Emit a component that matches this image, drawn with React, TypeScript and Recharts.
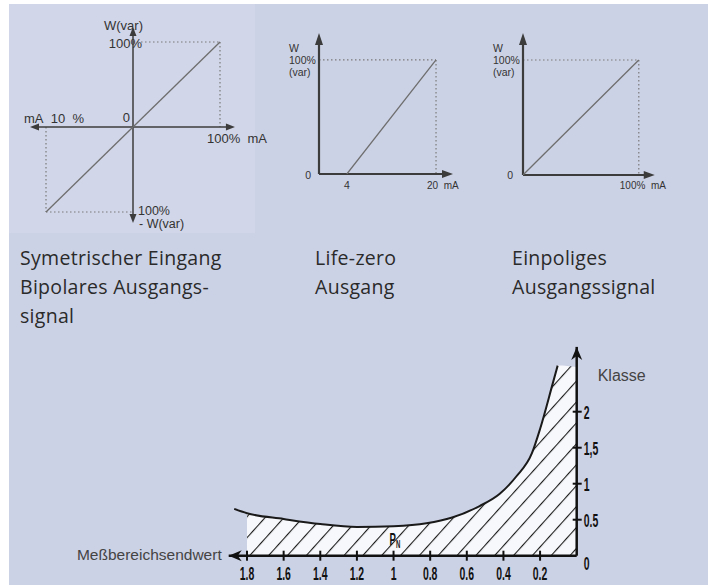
import React from 'react';
import { ComposedChart, Line, Area, XAxis, YAxis, ReferenceLine, ReferenceDot } from 'recharts';

// symmetric input, bipolar output (fraction of span)
const SYM_IN = [-1, 1];
const SYM_OUT = [-1, 1];

// life-zero: mA -> W (%)
const LIFE_MA = [4, 20];
const LIFE_W = [0, 100];

// unipolar: input % -> W %
const UNI_IN = [0, 100];
const UNI_W = [0, 100];

// Meßbereichsendwert vs Klasse
const RANGE_END = [0, 0.104, 0.131, 0.2, 0.245, 0.33, 0.42, 0.53, 0.68, 0.82, 1.0, 1.2, 1.4, 1.6, 1.8, 1.87];
const KLASSE = [null, 2.64, 2.39, 1.76, 1.42, 1.1, 0.86, 0.69, 0.53, 0.45, 0.41, 0.4, 0.44, 0.51, 0.59, 0.65];
const HATCH_TOP = 2.62;
const HATCH_LIMIT = 1.8;

const X_TICKS = [0.2, 0.4, 0.6, 0.8, 1, 1.2, 1.4, 1.6, 1.8];
const X_TICK_LABELS = ['0.2', '0.4', '0.6', '0.8', '1', '1.2', '1.4', '1.6', '1.8'];
const Y_TICKS = [0, 0.5, 1, 1.5, 2];
const Y_TICK_LABELS = ['0', '0.5', '1', '1,5', '2'];

const symData = SYM_IN.map((x, i) => ({ x, y: SYM_OUT[i] }));
const lifeData = LIFE_MA.map((x, i) => ({ x, y: LIFE_W[i] }));
const uniData = UNI_IN.map((x, i) => ({ x, y: UNI_W[i] }));
const klasseData = RANGE_END.map((x, i) => ({
    x,
    curve: KLASSE[i],
    hatch: x > HATCH_LIMIT ? null : (KLASSE[i] ?? HATCH_TOP),
}));

const AXIS = '#3c3c3c';
const THIN = '#6e6e6e';
const TXT = '#333';
const SANS = '"Liberation Sans", Arial, sans-serif';
const SP = '\u00a0';

type Dir = 'up' | 'down' | 'left' | 'right';

// arrow head, tip sits on the data point
const arrow = (dir: Dir, len: number, half: number, color: string, notch = 0) => (p: any) => {
    const { cx, cy } = p;
    const n = len * (1 - notch);
    let pts = '';
    if (dir === 'up') pts = `${cx},${cy} ${cx - half},${cy + len} ${cx},${cy + n} ${cx + half},${cy + len}`;
    if (dir === 'down') pts = `${cx},${cy} ${cx - half},${cy - len} ${cx},${cy - n} ${cx + half},${cy - len}`;
    if (dir === 'left') pts = `${cx},${cy} ${cx + len},${cy - half} ${cx + n},${cy} ${cx + len},${cy + half}`;
    if (dir === 'right') pts = `${cx},${cy} ${cx - len},${cy - half} ${cx - n},${cy} ${cx - len},${cy + half}`;
    return <polygon points={pts} fill={color} />;
};

const head = (key: string, x: number, y: number, shape: any) => (
    <ReferenceDot key={key} x={x} y={y} r={0} ifOverflow="visible" shape={shape} />
);

const lbl = (text: string, x: number, y: number, dx: number, dy: number, anchor: 'start' | 'middle' | 'end', size: number) => (
    <ReferenceDot
        key={text + x + y}
        x={x}
        y={y}
        r={0}
        ifOverflow="visible"
        shape={(p: any) => (
            <text x={p.cx + dx} y={p.cy + dy} textAnchor={anchor} fontFamily={SANS} fontSize={size} fill={TXT}>
                {text}
            </text>
        )}
    />
);

const seg = (x1: number, y1: number, x2: number, y2: number, dotted: boolean, width = 1.2) => (
    <ReferenceLine
        key={`${x1}-${y1}-${x2}-${y2}`}
        segment={[{ x: x1, y: y1 }, { x: x2, y: y2 }]}
        stroke={dotted ? '#7a7a7a' : AXIS}
        strokeWidth={width}
        strokeDasharray={dotted ? '1.5 2.5' : undefined}
        ifOverflow="visible"
    />
);

const XTick = (props: any) => {
    const { x, y, payload } = props;
    const i = X_TICKS.indexOf(payload.value);
    return (
        <g>
            <line x1={x} x2={x} y1={y - 5} y2={y + 5} stroke="#111" strokeWidth={2} />
            <text transform={`translate(${x},${y + 24}) scale(0.55,1)`} textAnchor="middle" fontFamily={SANS} fontWeight="bold" fontSize={19} fill="#111">
                {X_TICK_LABELS[i]}
            </text>
        </g>
    );
};

const YTick = (props: any) => {
    const { x, y, payload } = props;
    const i = Y_TICKS.indexOf(payload.value);
    const low = payload.value === 0 ? 14 : 7;
    return (
        <g>
            {payload.value !== 0 && <line x1={x - 4} x2={x + 5} y1={y} y2={y} stroke="#111" strokeWidth={2} />}
            <text transform={`translate(${x + 7},${y + low}) scale(0.55,1)`} textAnchor="start" fontFamily={SANS} fontWeight="bold" fontSize={19} fill="#111">
                {Y_TICK_LABELS[i]}
            </text>
        </g>
    );
};

const caption: React.CSSProperties = {
    position: 'absolute',
    fontFamily: '"Open Sans", Lato, sans-serif',
    fontSize: 19.5,
    letterSpacing: 0.3,
    lineHeight: '29px',
    color: '#2a2a2a',
    whiteSpace: 'nowrap',
};

export default function App() {
    return (
        <div style={{ position: 'absolute', left: 0, top: 0, width: 713, height: 585, background: '#fff', overflow: 'hidden' }}>
            <svg width={0} height={0} style={{ position: 'absolute' }}>
                <defs>
                    <pattern id="hatch" patternUnits="userSpaceOnUse" width={14} height={14} patternTransform="rotate(42)">
                        <rect width={14} height={14} fill="#f7f8fb" />
                        <line x1={0} y1={0} x2={0} y2={14} stroke="#1a1a1a" strokeWidth={2.2} />
                    </pattern>
                </defs>
            </svg>
            <div style={{ position: 'absolute', left: 9, top: 4, width: 699, height: 581, background: '#ccd2e5' }} />
            <div style={{ position: 'absolute', left: 9, top: 4, width: 246, height: 229, background: '#d1d6e8' }} />

            {/* symmetric input / bipolar output */}
            <div style={{ position: 'absolute', left: 0, top: 0 }}>
                <ComposedChart width={290} height={235} data={symData} margin={{ top: 25, right: 52.6, bottom: 6, left: 28.6 }}>
                    <XAxis dataKey="x" type="number" domain={[-1.2, 1.2]} hide allowDataOverflow />
                    <YAxis type="number" domain={[-1.2, 1.2]} hide allowDataOverflow />
                    {seg(0, 1, 1, 1, true)}
                    {seg(1, 1, 1, 0, true)}
                    {seg(-1, 0, -1, -1, true)}
                    {seg(-1, -1, 0, -1, true)}
                    {seg(-1.1, 0, 1.09, 0, false, 1.5)}
                    {seg(0, -1.05, 0, 1.1, false, 1.5)}
                    <Line dataKey="y" stroke={THIN} strokeWidth={1.3} dot={false} isAnimationActive={false} />
                    {head('l', -1.184, 0, arrow('left', 9, 3.5, AXIS))}
                    {head('r', 1.172, 0, arrow('right', 9, 3.5, AXIS))}
                    {head('u', 0, 1.176, arrow('up', 9, 3.5, AXIS))}
                    {head('d', 0, -1.13, arrow('down', 9, 3.5, AXIS))}
                    {lbl('W(var)', 0, 1.176, 10, 3, 'end', 13)}
                    {lbl('100%', 0, 1, 9, 6, 'end', 13)}
                    {lbl('0', 0, 0, -3, -5, 'end', 13)}
                    {lbl(`mA${SP}${SP}10${SP}${SP}%`, -1.184, 0, -6, -4, 'start', 13)}
                    {lbl(`100%${SP}${SP}mA`, 1, 0, -13, 16, 'start', 13)}
                    {lbl('100%', 0, -1, 5, 3, 'start', 12.5)}
                    {lbl('- W(var)', 0, -1.13, 6, 5, 'start', 12.5)}
                </ComposedChart>
            </div>

            {/* life-zero */}
            <div style={{ position: 'absolute', left: 260, top: 0 }}>
                <ComposedChart width={220} height={200} data={lifeData} margin={{ top: 32.6, right: 26.7, bottom: 26, left: 59 }}>
                    <XAxis dataKey="x" type="number" domain={[-1, 23.1]} hide allowDataOverflow />
                    <YAxis type="number" domain={[0, 124]} hide allowDataOverflow />
                    {seg(-1, 100, 20, 100, true)}
                    {seg(20, 100, 20, 0, true)}
                    {seg(-1, 0, 21.5, 0, false, 2.2)}
                    {seg(-1, 0, -1, 114, false, 2.2)}
                    <Line dataKey="y" stroke={THIN} strokeWidth={1.3} dot={false} isAnimationActive={false} />
                    {head('r', 23.05, 0, arrow('right', 11, 4, AXIS))}
                    {head('u', -1, 123.7, arrow('up', 12, 4, AXIS))}
                    {lbl('W', -1, 100, -30, -8, 'start', 10.5)}
                    {lbl('100%', -1, 100, -30, 4, 'start', 10.5)}
                    {lbl('(var)', -1, 100, -30, 16, 'start', 10.5)}
                    {lbl('0', -1, 0, -8, 5, 'end', 10.5)}
                    {lbl('4', 4, 0, 0, 15, 'middle', 10.5)}
                    {lbl(`20${SP}${SP}mA`, 20, 0, -9, 15, 'start', 10)}
                </ComposedChart>
            </div>

            {/* unipolar */}
            <div style={{ position: 'absolute', left: 480, top: 0 }}>
                <ComposedChart width={233} height={200} data={uniData} margin={{ top: 32.4, right: 58, bottom: 25, left: 43 }}>
                    <XAxis dataKey="x" type="number" domain={[0, 114]} hide allowDataOverflow />
                    <YAxis type="number" domain={[0, 124]} hide allowDataOverflow />
                    {seg(0, 100, 100, 100, true)}
                    {seg(100, 100, 100, 0, true)}
                    {seg(0, 0, 105, 0, false, 2.2)}
                    {seg(0, 0, 0, 114, false, 2.2)}
                    <Line dataKey="y" stroke={THIN} strokeWidth={1.3} dot={false} isAnimationActive={false} />
                    {head('r', 113.8, 0, arrow('right', 11, 4, AXIS))}
                    {head('u', 0, 123.5, arrow('up', 12, 4, AXIS))}
                    {lbl('W', 0, 100, -30, -8, 'start', 10.5)}
                    {lbl('100%', 0, 100, -30, 4, 'start', 10.5)}
                    {lbl('(var)', 0, 100, -30, 16, 'start', 10.5)}
                    {lbl('0', 0, 0, -10, 4, 'end', 10.5)}
                    {lbl(`100%${SP}${SP}mA`, 100, 0, -19, 14, 'start', 10)}
                </ComposedChart>
            </div>

            <div style={{ ...caption, left: 20, top: 243 }}>
                Symetrischer Eingang<br />Bipolares Ausgangs-<br />signal
            </div>
            <div style={{ ...caption, left: 315, top: 243 }}>
                Life-zero<br />Ausgang
            </div>
            <div style={{ ...caption, left: 512, top: 243 }}>
                Einpoliges<br />Ausgangssignal
            </div>

            {/* Klasse vs Meßbereichsendwert */}
            <div style={{ position: 'absolute', left: 0, top: 330 }}>
                <ComposedChart width={713} height={255} data={klasseData} margin={{ top: 16.9, right: 96.3, bottom: 9.3, left: 228.7 }}>
                    <XAxis
                        dataKey="x"
                        type="number"
                        domain={[0, 1.9]}
                        reversed
                        allowDataOverflow
                        ticks={X_TICKS}
                        tick={<XTick />}
                        tickLine={false}
                        tickSize={0}
                        tickMargin={0}
                        height={20}
                        axisLine={{ stroke: '#111', strokeWidth: 2.5 }}
                        interval={0}
                    />
                    <YAxis
                        type="number"
                        orientation="right"
                        domain={[0, 2.9]}
                        allowDataOverflow
                        ticks={Y_TICKS}
                        tick={<YTick />}
                        tickLine={false}
                        tickSize={0}
                        tickMargin={0}
                        width={40}
                        axisLine={{ stroke: '#111', strokeWidth: 2.5 }}
                        interval={0}
                    />
                    <Area dataKey="hatch" type="monotone" fill="url(#hatch)" fillOpacity={1} stroke="none" baseValue={0} isAnimationActive={false} />
                    <Line dataKey="curve" type="monotone" stroke="#1a1a1a" strokeWidth={2} dot={false} isAnimationActive={false} />
                    {head('xa', 1.9, 0, arrow('left', 13, 5.5, '#111', 0.3))}
                    {head('ya', 0, 2.9, arrow('up', 13, 5.5, '#111', 0.3))}
                    <ReferenceDot
                        x={0}
                        y={2.5}
                        r={0}
                        ifOverflow="visible"
                        shape={(p: any) => (
                            <text x={p.cx + 21} y={p.cy + 5.5} fontFamily={SANS} fontSize={16} fill="#444">Klasse</text>
                        )}
                    />
                    <ReferenceDot
                        x={1.9}
                        y={0}
                        r={0}
                        ifOverflow="visible"
                        shape={(p: any) => (
                            <text x={p.cx - 7} y={p.cy + 4} textAnchor="end" fontFamily={SANS} fontSize={15.5} fill="#444">Meßbereichsendwert</text>
                        )}
                    />
                    <ReferenceDot
                        x={1}
                        y={0}
                        r={0}
                        ifOverflow="visible"
                        shape={(p: any) => (
                            <text transform={`translate(${p.cx - 4},${p.cy - 11}) scale(0.6,1)`} fontFamily={SANS} fontWeight="bold" fontSize={16} fill="#111">
                                P<tspan fontSize={10} dy={3}>N</tspan>
                            </text>
                        )}
                    />
                </ComposedChart>
            </div>
        </div>
    );
}
